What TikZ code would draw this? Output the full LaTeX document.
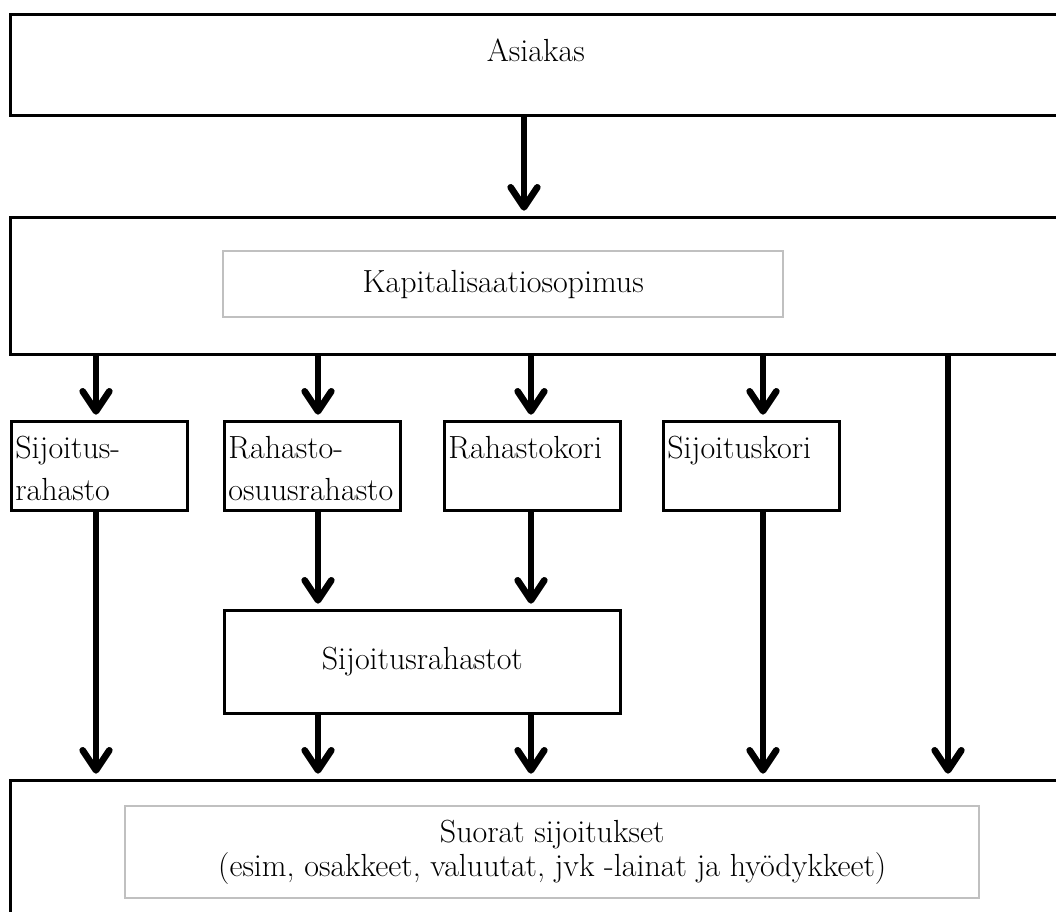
\documentclass[tikz,border=0pt]{standalone}
\usepackage{fontspec}
\usetikzlibrary{arrows.meta}

\tikzset{every picture/.style={line width=0.75pt}}
\tikzset{
  bigbox/.style={draw, line width=2pt, anchor=north west, inner sep=0pt, minimum width=788.25pt},
  greybox/.style={draw={rgb,255:red,192;green,192;blue,192}, line width=1.8pt, anchor=north west, inner sep=0pt},
  midbox/.style={draw, line width=2pt, anchor=north west, inner xsep=3pt, inner ysep=0pt,
    text width=126pt, align=left, text height=27.75pt, text depth=39pt,
    font=\fontsize{24}{31.5}\selectfont},
  arr/.style={line width=5pt, -{Straight Barb[length=15pt,width=20pt,round]}, shorten >=4pt},
}

\begin{document}
\begin{tikzpicture}[x=0.75pt,y=0.75pt,yscale=-1,xscale=1,font=\fontsize{24}{25}\selectfont]
  \clip (0,0) rectangle (1056,911);
  \fill[white] (0,0) rectangle (1056,911);

  % Columns of the arrows
  \coordinate (ca) at (524,0);
  \coordinate (c1) at (96,0);
  \coordinate (c2) at (318,0);
  \coordinate (c3) at (531,0);
  \coordinate (c4) at (763,0);
  \coordinate (c5) at (948,0);

  % Top box
  \node[bigbox, text height=35.25pt, text depth=40.5pt] (asiakas) at (9,13) {Asiakas};

  % Contract box
  \node[bigbox, minimum height=102.75pt] (kbox) at (9,216) {};
  \node[greybox, minimum width=420pt, minimum height=49.5pt] (kapital) at (222,250) {Kapitalisaatiosopimus};

  % Middle boxes
  \node[midbox] (sr) at (10,420) {Sijoitus-\\rahasto};
  \node[midbox] (ror) at (223,420) {Rahasto-\\osuusrahasto};
  \node[midbox] (rk) at (443,420) {Rahastokori};
  \node[midbox] (sk) at (662,420) {Sijoituskori};

  % Funds box
  \node[draw, line width=2pt, anchor=north west, inner sep=0pt, minimum width=297pt, minimum height=77.25pt] (srt) at (223,609) {Sijoitusrahastot};

  % Bottom box
  \node[bigbox, minimum height=112.5pt] (suorat) at (9,779) {};
  \node[greybox, minimum width=640.5pt, minimum height=69pt, align=center] (suoratxt) at (124,805) {Suorat sijoitukset\\(esim, osakkeet, valuutat, jvk -lainat ja hyödykkeet)};

  % Arrows
  \draw[arr] (asiakas.south -| ca) -- (kbox.north -| ca);
  \draw[arr] (kbox.south -| c1) -- (sr.north -| c1);
  \draw[arr] (kbox.south -| c2) -- (ror.north -| c2);
  \draw[arr] (kbox.south -| c3) -- (rk.north -| c3);
  \draw[arr] (kbox.south -| c4) -- (sk.north -| c4);
  \draw[arr] (kbox.south -| c5) -- (suorat.north -| c5);
  \draw[arr] (sr.south -| c1) -- (suorat.north -| c1);
  \draw[arr] (ror.south -| c2) -- (srt.north -| c2);
  \draw[arr] (rk.south -| c3) -- (srt.north -| c3);
  \draw[arr] (sk.south -| c4) -- (suorat.north -| c4);
  \draw[arr] (srt.south -| c2) -- (suorat.north -| c2);
  \draw[arr] (srt.south -| c3) -- (suorat.north -| c3);

\end{tikzpicture}
\end{document}
